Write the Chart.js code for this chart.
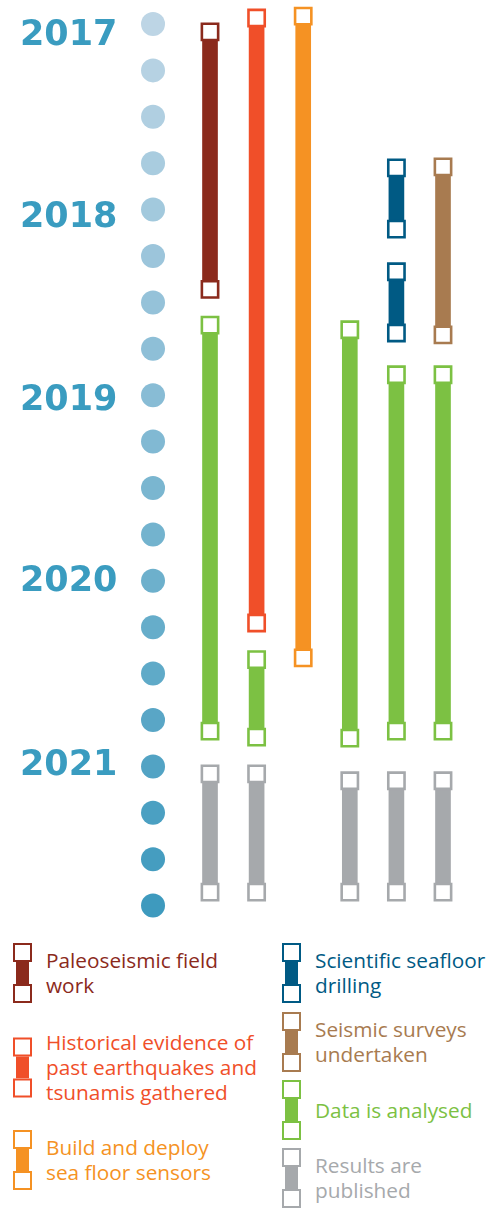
<!DOCTYPE html>
<html>
<head>
<meta charset="utf-8">
<script src="https://cdn.jsdelivr.net/npm/chart.js@4.4.1/dist/chart.umd.min.js"></script>
<style>
  body { margin: 0; background: #fff; }
  #wrap { position: relative; width: 502px; height: 1209px; overflow: hidden; }
  #grafico { position: absolute; left: 0; top: 0; }
  .leg { position: absolute; display: flex; align-items: center; transform: translateY(-50%); font-family: "Open Sans", sans-serif; }
  .icone { width: 19px; display: flex; flex-direction: column; align-items: center; margin-right: 14px; flex: none; }
  .quad { width: 19px; height: 19px; box-sizing: border-box; border: 2.5px solid; background: #fff; }
  .barra { width: 13px; height: 22px; }
  .txt { font-size: 20.8px; line-height: 25px; white-space: nowrap; }
</style>
</head>
<body>
<div id="wrap">
  <canvas id="grafico" width="502" height="930"></canvas>
  <div id="legenda"></div>
</div>
<script>
// tempo em trimestres a partir de jan/2017 (0 = 2017, 4 = 2018 ...)
const quarters = [0, 1, 2, 3, 4, 5, 6, 7, 8, 9, 10, 11, 12, 13, 14, 15, 16, 17, 18, 19];
// posicao dos rotulos de ano (um pouco abaixo das bolinhas no original)
const yearTicks = [0.26, 4.17, 8.12, 12.02, 15.99];
const yearLabels = ['2017', '2018', '2019', '2020', '2021'];

// cada segmento: [coluna, inicio, fim]
const paleoseismic = [[1, 0.17, 5.72]];
const historical = [[2, -0.13, 12.91]];
const sensors = [[3, -0.17, 13.66]];
const drilling = [[5, 3.10, 4.42], [5, 5.34, 6.66]];
const surveys = [[6, 3.08, 6.70]];
const analysed = [[1, 6.49, 15.24], [2, 13.70, 15.37], [4, 6.59, 15.39], [5, 7.56, 15.24], [6, 7.56, 15.24]];
const published = [[1, 16.16, 18.71], [2, 16.16, 18.71], [4, 16.31, 18.71], [5, 16.31, 18.71], [6, 16.31, 18.71]];

const series = [
  { label: 'Paleoseismic field work', seg: paleoseismic, color: '#8b2a1c', lines: ['Paleoseismic field', 'work'], col: 0, y: 973 },
  { label: 'Historical evidence of past earthquakes and tsunamis gathered', seg: historical, color: '#f04f29', lines: ['Historical evidence of', 'past earthquakes and', 'tsunamis gathered'], col: 0, y: 1067 },
  { label: 'Build and deploy sea floor sensors', seg: sensors, color: '#f59223', lines: ['Build and deploy', 'sea floor sensors'], col: 0, y: 1160 },
  { label: 'Scientific seafloor drilling', seg: drilling, color: '#005a84', lines: ['Scientific seafloor', 'drilling'], col: 1, y: 973 },
  { label: 'Seismic surveys undertaken', seg: surveys, color: '#a87b50', lines: ['Seismic surveys', 'undertaken'], col: 1, y: 1042 },
  { label: 'Data is analysed', seg: analysed, color: '#7cc143', lines: ['Data is analysed'], col: 1, y: 1110 },
  { label: 'Results are published', seg: published, color: '#a6a9ac', lines: ['Results are', 'published'], col: 1, y: 1178 }
];

document.addEventListener('DOMContentLoaded', () => {

  const ctx = document.getElementById('grafico');
  const DOT_X = -0.223;

  // bolinhas do lado: azul claro -> azul escuro
  const corBolinha = quarters.map((q, i) => {
    const t = i / (quarters.length - 1);
    const r = Math.round(189 + (62 - 189) * t);
    const g = Math.round(213 + (154 - 213) * t);
    const b = Math.round(229 + (190 - 229) * t);
    return `rgb(${r},${g},${b})`;
  });

  const datasets = [];

  datasets.push({
    type: 'line',
    label: 'quarters',
    data: quarters.map(q => ({ x: DOT_X, y: q })),
    showLine: false,
    pointStyle: 'circle',
    pointRadius: 12,
    pointBackgroundColor: corBolinha,
    pointBorderWidth: 0,
    order: 0,
    clip: false
  });

  series.forEach(s => {
    datasets.push({
      type: 'bar',
      label: s.label,
      data: s.seg.map(p => ({ x: p[0], y: [p[1], p[2]] })),
      backgroundColor: s.color,
      barThickness: 15,
      grouped: false,
      order: 2
    });
    datasets.push({
      type: 'line',
      label: s.label + ' (marcos)',
      data: s.seg.flatMap(p => [{ x: p[0], y: p[1] }, { x: p[0], y: p[2] }]),
      showLine: false,
      pointStyle: 'rect',
      pointRadius: 11.5,
      pointBackgroundColor: '#ffffff',
      pointBorderColor: s.color,
      pointBorderWidth: 2.6,
      order: 1,
      clip: false
    });
  });

  new Chart(ctx, {
    type: 'bar',
    data: { datasets: datasets },
    options: {
      responsive: false,
      animation: false,
      layout: { autoPadding: false, padding: { left: 20, right: 0, top: 0, bottom: 0 } },
      plugins: {
        legend: { display: false },
        tooltip: { enabled: false }
      },
      scales: {
        x: {
          type: 'linear',
          display: false,
          offset: false,
          min: -0.717,
          max: 7.266
        },
        y: {
          type: 'linear',
          reverse: true,
          min: -0.517,
          max: 19.526,
          grid: { display: false },
          border: { display: false },
          afterBuildTicks: (scale) => {
            scale.ticks = yearTicks.map(v => ({ value: v }));
          },
          afterFit: (scale) => {
            scale.width = 110;
            scale.paddingTop = 0;
            scale.paddingBottom = 0;
          },
          ticks: {
            crossAlign: 'far',
            color: '#3a9cc0',
            padding: 0,
            font: { family: 'DejaVu Sans', size: 35, weight: 'bold' },
            callback: (v) => yearLabels[yearTicks.indexOf(v)]
          }
        }
      }
    }
  });

  // legenda feita em html
  const legenda = document.getElementById('legenda');
  series.forEach(s => {
    const item = document.createElement('div');
    item.className = 'leg';
    item.style.left = s.col === 0 ? '13px' : '282px';
    item.style.top = s.y + 'px';
    item.style.color = s.color;
    item.innerHTML =
      `<div class="icone">
         <div class="quad" style="border-color:${s.color}"></div>
         <div class="barra" style="background:${s.color}"></div>
         <div class="quad" style="border-color:${s.color}"></div>
       </div>
       <div class="txt">${s.lines.join('<br>')}</div>`;
    legenda.appendChild(item);
  });
});
</script>
</body>
</html>
